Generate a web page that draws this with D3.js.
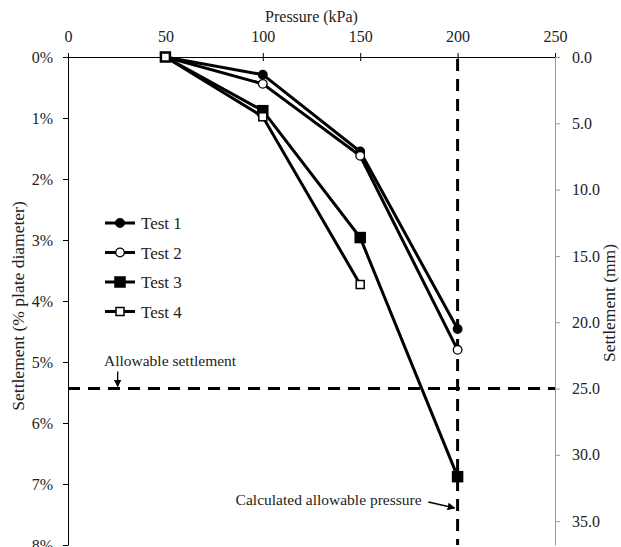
<!DOCTYPE html>
<meta charset="utf-8">
<script src="https://d3js.org/d3.v7.min.js"></script>
<style>
  body { margin: 0; background: #fff; }
  text { font-family: "Liberation Serif", "Times New Roman", serif; fill: #222; }
</style>
<div id="chart"></div>
<script>
// data (settlement in % of plate diameter)
var pressure = [50, 100, 150, 200];
var test1 = [0, 0.29, 1.55, 4.46];
var test2 = [0, 0.44, 1.62, 4.80];
var test3 = [0, 0.88, 2.96, 6.88];
var test4 = [0, 0.98, 3.73];
var seriesNames = ["Test 1", "Test 2", "Test 3", "Test 4"];
var xTicks = [0, 50, 100, 150, 200, 250];
var yTicksPct = [0, 1, 2, 3, 4, 5, 6, 7, 8];
var yTicksMm = [0, 5, 10, 15, 20, 25, 30, 35];
var plateDiameter = 460; // mm
var allowableSettlement = 25; // mm
var allowablePressure = 200; // kPa

var margin = {top: 57, right: 66, bottom: 2, left: 68},
    width = 621 - margin.left - margin.right,
    height = 547 - margin.top - margin.bottom;

var svg = d3.select("#chart").append("svg")
    .attr("width", 621).attr("height", 547)
  .append("g")
    .attr("transform", "translate(" + margin.left + "," + margin.top + ")");

var x = d3.scaleLinear().domain([0, 250]).range([0, width]);
var y = d3.scaleLinear().domain([0, 8]).range([0, height]);
var yMm = d3.scaleLinear().domain([0, 8 * plateDiameter / 100]).range([0, height]);

// top axis
var xAxis = svg.append("g")
    .call(d3.axisTop(x).tickValues(xTicks).tickSizeInner(4).tickSizeOuter(0).tickPadding(11));
xAxis.selectAll(".tick line").attr("y1", 4).attr("y2", -4);
xAxis.selectAll("text").attr("font-size", 16).attr("font-family", "Liberation Serif").attr("fill", "#222");
xAxis.select(".domain").attr("stroke", "#000");

svg.append("text")
    .attr("x", width / 2).attr("y", -35)
    .attr("text-anchor", "middle").attr("font-size", 16)
    .text("Pressure (kPa)");

// left axis
var yAxis = svg.append("g")
    .call(d3.axisLeft(y).tickValues(yTicksPct).tickFormat(function(d) { return d + "%"; })
      .tickSizeInner(5).tickSizeOuter(0).tickPadding(10));
yAxis.selectAll("text").attr("font-size", 16).attr("font-family", "Liberation Serif").attr("fill", "#222");

svg.append("text")
    .attr("transform", "translate(" + (-44) + "," + (height / 2 + 5) + ") rotate(-90)")
    .attr("text-anchor", "middle").attr("font-size", 17.5)
    .text("Settlement (% plate diameter)");

// right axis (mm)
var yAxisR = svg.append("g")
    .attr("transform", "translate(" + width + ",0)")
    .call(d3.axisRight(yMm).tickValues(yTicksMm).tickFormat(d3.format(".1f"))
      .tickSizeInner(5).tickSizeOuter(0).tickPadding(12));
yAxisR.selectAll("line, path").attr("stroke", "#999");
yAxisR.selectAll("text").attr("font-size", 16).attr("font-family", "Liberation Serif").attr("fill", "#222");

svg.append("text")
    .attr("transform", "translate(" + (width + 60) + "," + (height / 2 + 2) + ") rotate(-90)")
    .attr("text-anchor", "middle").attr("font-size", 17.5)
    .text("Settlement (mm)");

// reference lines
svg.append("line")
    .attr("x1", 0).attr("x2", width)
    .attr("y1", yMm(allowableSettlement)).attr("y2", yMm(allowableSettlement))
    .attr("stroke", "#000").attr("stroke-width", 3).attr("stroke-dasharray", "12,8");
svg.append("line")
    .attr("x1", x(allowablePressure)).attr("x2", x(allowablePressure))
    .attr("y1", 2).attr("y2", height)
    .attr("stroke", "#000").attr("stroke-width", 3).attr("stroke-dasharray", "12,8");

// series
var series = [test1, test2, test3, test4].map(function(vals, i) {
  return {name: seriesNames[i], values: vals.map(function(v, j) { return {p: pressure[j], s: v}; })};
});

var line = d3.line().x(function(d) { return x(d.p); }).y(function(d) { return y(d.s); });

function marker(g, i) {
  if (i < 2) {
    g.append("circle").attr("r", 4.3)
      .attr("fill", i == 0 ? "#000" : "#fff").attr("stroke", "#000").attr("stroke-width", 1.3);
  } else {
    var s = i == 2 ? 10 : 8;
    g.append("rect").attr("x", -s / 2).attr("y", -s / 2).attr("width", s).attr("height", s)
      .attr("fill", i == 2 ? "#000" : "#fff").attr("stroke", "#000").attr("stroke-width", 1.5);
  }
}

series.forEach(function(sr, i) {
  svg.append("path").datum(sr.values)
    .attr("d", line).attr("fill", "none").attr("stroke", "#000").attr("stroke-width", 3);
});
series.forEach(function(sr, i) {
  sr.values.forEach(function(d) {
    var g = svg.append("g").attr("transform", "translate(" + x(d.p) + "," + y(d.s) + ")");
    marker(g, i);
  });
});

// legend
var legend = svg.append("g").attr("transform", "translate(37,166)");
seriesNames.forEach(function(n, i) {
  var g = legend.append("g").attr("transform", "translate(0," + (i * 29.5) + ")");
  g.append("line").attr("x1", 0).attr("x2", 30).attr("stroke", "#000").attr("stroke-width", 3);
  marker(g.append("g").attr("transform", "translate(15,0)"), i);
  g.append("text").attr("x", 36).attr("y", 6).attr("font-size", 17).text(n);
});

// annotations
svg.append("defs").append("marker")
    .attr("id", "arrow").attr("viewBox", "0 0 10 10").attr("refX", 9).attr("refY", 5)
    .attr("markerWidth", 6).attr("markerHeight", 6).attr("orient", "auto")
  .append("path").attr("d", "M0,0 L10,5 L0,10 z").attr("fill", "#000");

svg.append("text")
    .attr("x", x(52.4)).attr("y", yMm(allowableSettlement) - 23)
    .attr("text-anchor", "middle").attr("font-size", 15.5)
    .text("Allowable settlement");
svg.append("line")
    .attr("x1", x(25.5)).attr("x2", x(25.5))
    .attr("y1", yMm(allowableSettlement) - 17).attr("y2", yMm(allowableSettlement) - 2)
    .attr("stroke", "#000").attr("stroke-width", 1.3).attr("marker-end", "url(#arrow)");

svg.append("text")
    .attr("x", x(181.5)).attr("y", 448)
    .attr("text-anchor", "end").attr("font-size", 15.5)
    .text("Calculated allowable pressure");
svg.append("line")
    .attr("x1", x(185)).attr("x2", x(198.5))
    .attr("y1", 445).attr("y2", 451)
    .attr("stroke", "#000").attr("stroke-width", 1.3).attr("marker-end", "url(#arrow)");
</script>
